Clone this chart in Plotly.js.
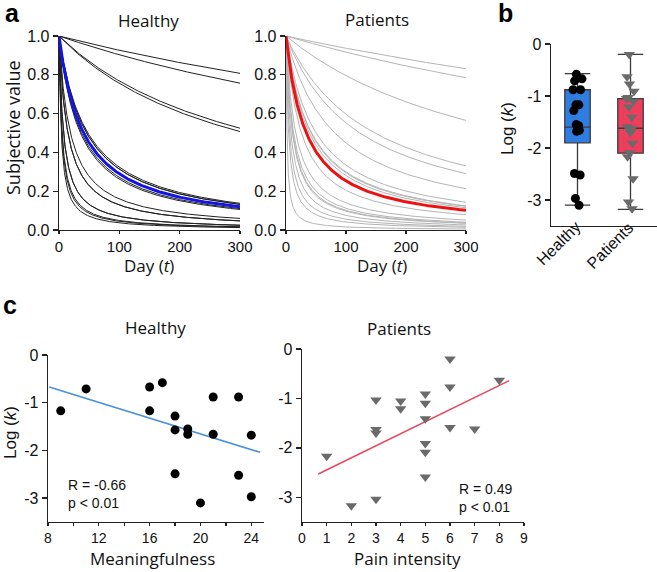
<!DOCTYPE html>
<html><head><meta charset="utf-8">
<script src="https://cdn.plot.ly/plotly-3.0.1.min.js"></script>
<style>html,body{margin:0;padding:0;background:#fff}#chart{width:657px;height:572px}</style>
</head><body><div id="chart"></div>
<script>
// ---- data ----
const groupNames = ['Healthy', 'Patients'];

// panel c (left) / panel b healthy: meaningfulness and log(k)
const healthyMeaning = [9, 11, 16, 17, 16, 18, 18, 19, 19, 21, 23, 21, 24, 18, 23, 20, 24];
const healthyLogK    = [-1.17, -0.71, -0.67, -0.58, -1.17, -1.28, -1.57, -1.55, -1.66, -0.88, -0.88, -1.66, -1.68, -2.49, -2.52, -3.10, -2.97];

// panel c (right) / panel b patients: pain intensity and log(k)
const patientPain = [1, 2, 3, 3, 3, 3, 4, 4, 5, 5, 5, 5, 5, 5, 6, 6, 6, 7, 8];
const patientLogK = [-2.17, -3.17, -1.03, -1.63, -1.70, -3.04, -1.05, -1.21, -0.91, -1.10, -1.41, -1.91, -2.09, -2.59, -0.20, -0.77, -1.59, -1.62, -0.63];

// group-level discount rates (thick curves in panel a)
const groupLogK = [-1.61, -1.53];

// panel b box statistics
const boxQ1     = [-1.90, -2.10];
const boxMedian = [-1.60, -1.62];
const boxQ3     = [-0.88, -1.05];
const boxLow    = [-3.10, -3.18];
const boxHigh   = [-0.57, -0.20];

// regression lines (panel c)
const healthyFitX = [8.1, 24.7];
const healthyFitY = [-0.67, -2.04];
const patientFitX = [0.66, 8.4];
const patientFitY = [-2.53, -0.64];

const healthyStats = ['R = -0.66', 'p &lt; 0.01'];
const patientStats = ['R = 0.49', 'p &lt; 0.01'];

// tick labels
const dayTicks = [0, 100, 200, 300];
const valueTicks = [0, 0.2, 0.4, 0.6, 0.8, 1.0];
const valueTickText = ['0.0', '0.2', '0.4', '0.6', '0.8', '1.0'];
const logTicks = [0, -1, -2, -3];
const logTickText = ['0', '-1', '-2', '-3'];
const meaningTicks = [8, 12, 16, 20, 24];
const painTicks = [0, 1, 2, 3, 4, 5, 6, 7, 8, 9];

// ---- model curves V = 1/(1 + k t) for panel a, from the read k values ----
const tGrid = Array.from({length: 301}, (_, i) => 300 * Math.pow(i / 300, 2));
function curve(logk) { const k = Math.pow(10, logk); return tGrid.map(t => 1 / (1 + k * t)); }

const W = 657, H = 572;
const px = v => v / W, py = v => 1 - v / H;

const tickFont = {family: 'Liberation Sans, Arial, sans-serif', size: 16, color: '#111'};
const titleFont = {family: 'Open Sans, Noto Sans, sans-serif', size: 17, color: '#111'};
const axBase = {showline: true, linecolor: '#222', linewidth: 1.3, ticks: 'outside', ticklen: 5,
  tickwidth: 1.3, tickcolor: '#222', showgrid: false, zeroline: false, tickfont: tickFont, fixedrange: true};
const xBase = Object.assign({}, axBase, {ticklen: 3, tickfont: Object.assign({}, tickFont, {size: 15})});
const xcBase = Object.assign({}, axBase, {ticklen: 3, tickfont: Object.assign({}, tickFont, {size: 14})});

const traces = [];
healthyLogK.forEach(lk => traces.push({type: 'scatter', mode: 'lines', x: tGrid, y: curve(lk),
  xaxis: 'x', yaxis: 'y', line: {color: '#222', width: 1}, hoverinfo: 'skip'}));
traces.push({type: 'scatter', mode: 'lines', x: tGrid, y: curve(groupLogK[0]), xaxis: 'x', yaxis: 'y',
  line: {color: '#1414e6', width: 3}});
patientLogK.forEach(lk => traces.push({type: 'scatter', mode: 'lines', x: tGrid, y: curve(lk),
  xaxis: 'x2', yaxis: 'y2', line: {color: '#b4b4b4', width: 1}, hoverinfo: 'skip'}));
traces.push({type: 'scatter', mode: 'lines', x: tGrid, y: curve(groupLogK[1]), xaxis: 'x2', yaxis: 'y2',
  line: {color: '#ee1111', width: 3}});

// panel b boxes
const boxFill = ['#2f7de1', '#ee3e5c'];
groupNames.forEach((g, i) => traces.push({type: 'box', x: [g], q1: [boxQ1[i]], median: [boxMedian[i]],
  q3: [boxQ3[i]], lowerfence: [boxLow[i]], upperfence: [boxHigh[i]], xaxis: 'x3', yaxis: 'y3',
  fillcolor: boxFill[i], line: {color: '#3a3a3a', width: 1.3}, width: 0.48, whiskerwidth: 1, boxpoints: false}));
traces.push({type: 'box', x: healthyLogK.map(() => groupNames[0]), y: healthyLogK, xaxis: 'x3', yaxis: 'y3',
  boxpoints: 'all', jitter: 0.4, pointpos: 0, width: 0.48, fillcolor: 'rgba(0,0,0,0)',
  line: {color: 'rgba(0,0,0,0)', width: 0}, marker: {color: '#000', size: 9}});
traces.push({type: 'box', x: patientLogK.map(() => groupNames[1]), y: patientLogK, xaxis: 'x3', yaxis: 'y3',
  boxpoints: 'all', jitter: 0.4, pointpos: 0, width: 0.48, fillcolor: 'rgba(0,0,0,0)',
  line: {color: 'rgba(0,0,0,0)', width: 0}, marker: {color: '#6a6a6a', size: 10, symbol: 'triangle-down'}});

// panel c scatter
traces.push({type: 'scatter', mode: 'lines', x: healthyFitX, y: healthyFitY, xaxis: 'x4', yaxis: 'y4',
  line: {color: '#4a90dc', width: 1.6}});
traces.push({type: 'scatter', mode: 'markers', x: healthyMeaning, y: healthyLogK, xaxis: 'x4', yaxis: 'y4',
  marker: {color: '#000', size: 9}});
traces.push({type: 'scatter', mode: 'lines', x: patientFitX, y: patientFitY, xaxis: 'x5', yaxis: 'y5',
  line: {color: '#e8485f', width: 1.6}});
traces.push({type: 'scatter', mode: 'markers', x: patientPain, y: patientLogK, xaxis: 'x5', yaxis: 'y5',
  marker: {color: '#6a6a6a', size: 10, symbol: 'triangle-down'}});

const ann = (text, x, y, opt = {}) => Object.assign({text, x: px(x), y: py(y), xref: 'paper', yref: 'paper',
  showarrow: false, font: titleFont, xanchor: 'center', yanchor: 'middle'}, opt);
const letterFont = {family: 'Liberation Sans, Arial, sans-serif', size: 25, color: '#000', weight: 'bold'};
const statFont = {family: 'Liberation Sans, Arial, sans-serif', size: 14, color: '#111'};
const logFont = {family: 'Liberation Sans, Arial, sans-serif', size: 17, color: '#111'};
const catFont = {family: 'Liberation Sans, Arial, sans-serif', size: 16, color: '#111'};
const bigTitle = Object.assign({}, titleFont, {size: 18});

// rotated category labels for panel b, placed at each category on the x3 axis
const catLabels = groupNames.map(g => ({text: g, x: g, xref: 'x3', y: py(216), yref: 'paper',
  xanchor: 'right', yanchor: 'top', xshift: 9, textangle: -45, showarrow: false, font: catFont}));

const layout = {
  width: W, height: H, margin: {l: 0, r: 0, t: 0, b: 0}, showlegend: false,
  paper_bgcolor: '#fff', plot_bgcolor: 'rgba(0,0,0,0)', boxmode: 'overlay',
  xaxis: Object.assign({}, xBase, {domain: [px(59), px(240)], range: [0, 300], tickvals: dayTicks, anchor: 'y'}),
  yaxis: Object.assign({}, axBase, {domain: [py(230), py(36)], range: [0, 1], tickvals: valueTicks, ticktext: valueTickText, anchor: 'x'}),
  xaxis2: Object.assign({}, xBase, {domain: [px(286), px(466)], range: [0, 300], tickvals: dayTicks, anchor: 'y2'}),
  yaxis2: Object.assign({}, axBase, {domain: [py(230), py(36)], range: [0, 1], tickvals: valueTicks, ticktext: valueTickText, anchor: 'x2'}),
  xaxis3: Object.assign({}, axBase, {domain: [px(551), 1], type: 'category', range: [-0.5, 1.5],
    categoryorder: 'array', categoryarray: groupNames, ticks: '', showticklabels: false, anchor: 'y3'}),
  yaxis3: Object.assign({}, axBase, {domain: [py(226), py(44)], range: [-3.5, 0], tickvals: logTicks, ticktext: logTickText, anchor: 'x3'}),
  xaxis4: Object.assign({}, xcBase, {domain: [px(48), px(264)], range: [8, 25], tickvals: meaningTicks, anchor: 'y4',
    minor: {dtick: 2, tick0: 0, ticks: 'outside', ticklen: 3, tickcolor: '#222', showgrid: false}}),
  yaxis4: Object.assign({}, axBase, {domain: [py(522), py(355)], range: [-3.5, 0], tickvals: logTicks, ticktext: logTickText, anchor: 'x4'}),
  xaxis5: Object.assign({}, xcBase, {domain: [px(302), px(524)], range: [0, 9], tickvals: painTicks, anchor: 'y5'}),
  yaxis5: Object.assign({}, axBase, {domain: [py(522), py(349)], range: [-3.5, 0], tickvals: logTicks, ticktext: logTickText, anchor: 'x5'}),
  annotations: [
    ann('a', 12, 13, {font: letterFont}),
    ann('b', 505, 13, {font: letterFont}),
    ann('c', 10, 305, {font: letterFont}),
    ann('Healthy', 148, 20),
    ann('Patients', 377, 19),
    ann('Healthy', 155, 327),
    ann('Patients', 399, 328),
    ann('Subjective value', 13, 128, {textangle: -90, font: bigTitle}),
    ann('Day (<i>t</i>)', 149, 265),
    ann('Day (<i>t</i>)', 382, 265),
    ann('Log (<i>k</i>)', 507, 129, {textangle: -90, font: logFont}),
    ann('Log (<i>k</i>)', 10, 433, {textangle: -90, font: logFont}),
    ann('Meaningfulness', 152, 572, {yanchor: 'bottom'}),
    ann('Pain intensity', 407, 572, {yanchor: 'bottom'}),
    ann(healthyStats.join('<br>'), 66, 475, {xanchor: 'left', yanchor: 'top', align: 'left', font: statFont}),
    ann(patientStats.join('<br>'), 457, 479, {xanchor: 'left', yanchor: 'top', align: 'left', font: statFont})
  ].concat(catLabels)
};

Plotly.newPlot('chart', traces, layout, {staticPlot: true, displayModeBar: false});
</script>
</body></html>
